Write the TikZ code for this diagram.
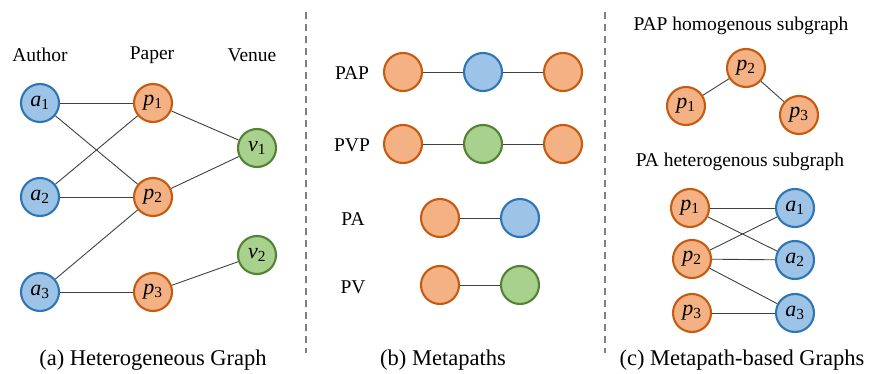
\documentclass[tikz,border=0pt]{standalone}
\usepackage{fontspec}
\setmainfont{Liberation Serif}
\usepackage{tikz}
\usetikzlibrary{positioning}
\definecolor{paperfill}{HTML}{F4B183}
\definecolor{paperline}{HTML}{C55A11}
\definecolor{authfill}{HTML}{9DC3E6}
\definecolor{authline}{HTML}{2E75B6}
\definecolor{venfill}{HTML}{A9D18E}
\definecolor{venline}{HTML}{548235}
\newcommand{\nd}[2]{{\itshape #1}\textsubscript{#2}}
\tikzset{
  vtx/.style={circle,line width=2.1pt,minimum size=38pt,inner sep=0pt,
    font=\fontsize{22}{24}\selectfont},
  pnode/.style={vtx,draw=paperline,fill=paperfill},
  anode/.style={vtx,draw=authline,fill=authfill},
  vnode/.style={vtx,draw=venline,fill=venfill},
  lbl/.style={font=\fontsize{19.5}{22}\selectfont},
  captxt/.style={font=\fontsize{22.5}{26}\selectfont},
  link/.style={draw=black!75,line width=0.9pt},
  sep/.style={draw=black!50,line width=1.5pt,dash pattern=on 7pt off 5pt}
}
\begin{document}
\begin{tikzpicture}[x=1pt,y=-1pt,node distance=80pt,on grid]
  \useasboundingbox (0,0) rectangle (879,374);
  % (a) heterogeneous graph
  \node[lbl] (tauth) at (40,55) {Author};
  \node[lbl] (tpap) at (152,55) {Paper};
  \node[lbl] (tven) at (252,55) {Venue};
  \node[anode] (a1) at (40,103) {\nd{a}{1}};
  \node[anode] (a2) at (40,197) {\nd{a}{2}};
  \node[anode] (a3) at (40,292) {\nd{a}{3}};
  \node[pnode] (p1) at (153,103) {\nd{p}{1}};
  \node[pnode] (p2) at (153,197) {\nd{p}{2}};
  \node[pnode] (p3) at (153,292) {\nd{p}{3}};
  \node[vnode] (v1) at (257,148) {\nd{v}{1}};
  \node[vnode] (v2) at (257,255) {\nd{v}{2}};
  \path[link]
  (a1) edge (p1)
  (a1) edge (p2)
  (a2) edge (p1)
  (a2) edge (p2)
  (a3) edge (p2)
  (a3) edge (p3)
  (p1) edge (v1)
  (p2) edge (v1)
  (p3) edge (v2)
  ;
  \node[captxt] (capa) at (153,360) {(a) Heterogeneous Graph};
  \draw[sep] (306,12) -- (306,353);
  % (b) metapaths
  \node[lbl] (tpap2) at (352,73) {PAP};
  \node[pnode] (m1) at (403,72) {};
  \node[anode,right=of m1] (m2) {};
  \node[pnode,right=of m2] (m3) {};
  \node[lbl] (tpvp) at (352,145) {PVP};
  \node[pnode] (n1) at (403,144) {};
  \node[vnode,right=of n1] (n2) {};
  \node[pnode,right=of n2] (n3) {};
  \node[lbl] (tpa) at (353,219) {PA};
  \node[pnode] (q1) at (440,218) {};
  \node[anode,right=of q1] (q2) {};
  \node[lbl] (tpv) at (353,287) {PV};
  \node[pnode] (r1) at (440,285) {};
  \node[vnode,right=of r1] (r2) {};
  \path[link]
  (m1) edge (m2)
  (m2) edge (m3)
  (n1) edge (n2)
  (n2) edge (n3)
  (q1) edge (q2)
  (r1) edge (r2)
  ;
  \node[captxt] (capb) at (443,360) {(b) Metapaths};
  \draw[sep] (605,12) -- (605,353);
  % (c) metapath-based graphs
  \node[lbl] (thomo) at (741,26) {PAP homogenous subgraph};
  \node[pnode] (h2) at (746,68) {\nd{p}{2}};
  \node[pnode] (h1) at (686,106) {\nd{p}{1}};
  \node[pnode] (h3) at (799,115) {\nd{p}{3}};
  \path[link]
  (h1) edge (h2)
  (h2) edge (h3)
  ;
  \node[lbl] (thet) at (740,162) {PA heterogenous subgraph};
  \node[pnode] (g1) at (690,208) {\nd{p}{1}};
  \node[pnode] (g2) at (692,259) {\nd{p}{2}};
  \node[pnode] (g3) at (692,313) {\nd{p}{3}};
  \node[anode] (b1) at (795,208) {\nd{a}{1}};
  \node[anode] (b2) at (795,260) {\nd{a}{2}};
  \node[anode] (b3) at (795,313) {\nd{a}{3}};
  \path[link]
  (g1) edge (b1)
  (g1) edge (b2)
  (g2) edge (b1)
  (g2) edge (b2)
  (g2) edge (b3)
  (g3) edge (b3)
  ;
  \node[captxt] (capc) at (742,360) {(c) Metapath-based Graphs};
\end{tikzpicture}
\end{document}
